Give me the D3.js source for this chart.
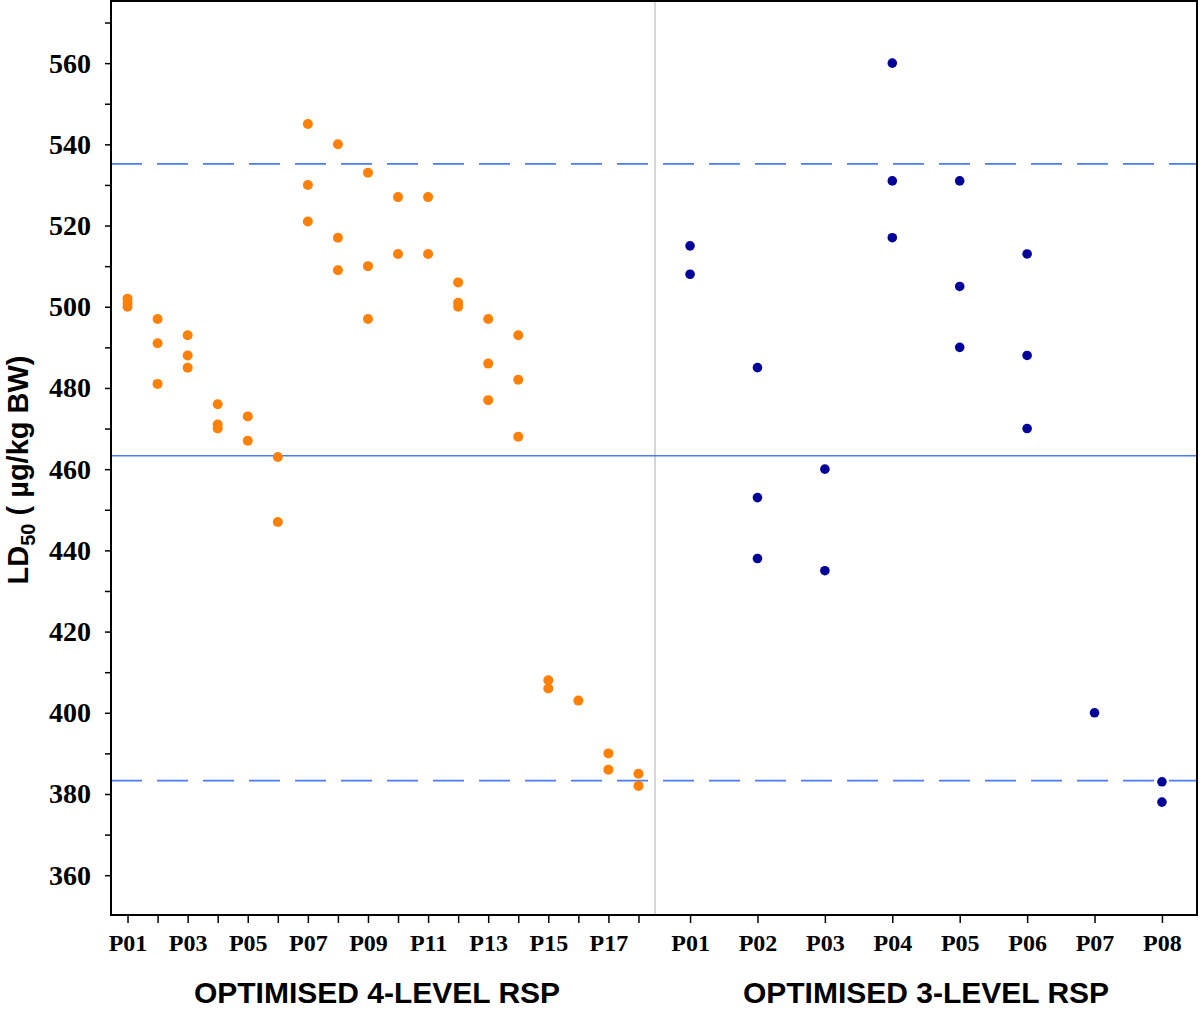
<!DOCTYPE html>
<html><head><meta charset="utf-8">
<script src="https://cdn.jsdelivr.net/npm/d3@7"></script>
<style>body{margin:0;background:#fff}</style>
</head><body>
<svg id="c" width="1200" height="1010"></svg>
<script>
// ---- data ----
const cats4 = ["P01","P02","P03","P04","P05","P06","P07","P08","P09","P10","P11","P12","P13","P14","P15","P16","P17","P18"];
const vals4 = [
  [502,501,500],[497,491,481],[493,488,485],[476,471,470],[473,467],[463,447],
  [545,530,521],[540,517,509],[533,510,497],[527,513],[527,513],[506,501,500],
  [497,486,477],[493,482,468],[408,406],[403],[390,386],[385,382]
];
const cats3 = ["P01","P02","P03","P04","P05","P06","P07","P08"];
const vals3 = [[515,508],[485,453,438],[460,435],[560,531,517],[531,505,490],[513,488,470],[400],[383,378]];
const yTicks = [360,380,400,420,440,460,480,500,520,540,560];
const meanLine = 463.3;
const limitLines = [535.2, 383.3];
const groupTitles = ["OPTIMISED 4-LEVEL RSP","OPTIMISED 3-LEVEL RSP"];

// ---- layout ----
const svg = d3.select("#c");
const L = 111, R = 1197, T = 1, B = 915, MID = 655;
const y = d3.scaleLinear().domain([350.2, 575.3]).range([B, T]);
const x4 = d3.scalePoint().domain(cats4).range([L, MID]).padding(0.55);
const x3 = d3.scalePoint().domain(cats3).range([MID, R]).padding(0.52);
const lineColor = "#4a7cf2";

// divider
svg.append("line").attr("x1",MID).attr("x2",MID).attr("y1",T).attr("y2",B)
  .attr("stroke","#d6d6d6").attr("stroke-width",2);

// reference lines
svg.append("line").attr("x1",L).attr("x2",R).attr("y1",y(meanLine)).attr("y2",y(meanLine))
  .attr("stroke",lineColor).attr("stroke-width",1.7);
limitLines.forEach(v=>{
  svg.append("line").attr("x1",L).attr("x2",R).attr("y1",y(v)).attr("y2",y(v))
    .attr("stroke",lineColor).attr("stroke-width",1.7).attr("stroke-dasharray","31,15");
});

// points
const pts4 = []; vals4.forEach((a,i)=>a.forEach(v=>pts4.push({c:cats4[i],v})));
const pts3 = []; vals3.forEach((a,i)=>a.forEach(v=>pts3.push({c:cats3[i],v})));
svg.append("g").selectAll("circle").data(pts4).join("circle")
  .attr("cx",d=>x4(d.c)).attr("cy",d=>y(d.v)).attr("r",5).attr("fill","#fd8008");
svg.append("g").selectAll("circle").data(pts3).join("circle")
  .attr("cx",d=>x3(d.c)).attr("cy",d=>y(d.v)).attr("r",4.8).attr("fill","#03039a");

// frame
svg.append("rect").attr("x",L).attr("y",T).attr("width",R-L).attr("height",B-T)
  .attr("fill","none").attr("stroke","#000").attr("stroke-width",2);

// y axis
const serif = "'Liberation Serif','Times New Roman',serif";
const yMinor = d3.range(360,575,10).filter(v=>!yTicks.includes(v));
const ya = svg.append("g").attr("transform",`translate(${L},0)`)
  .call(d3.axisLeft(y).tickValues(yTicks).tickSize(6).tickPadding(14).tickFormat(d3.format("d")));
ya.select(".domain").remove();
ya.selectAll("line").attr("stroke","#000").attr("stroke-width",1.5);
ya.selectAll("text").attr("font-family",serif)
  .attr("font-weight","bold").attr("font-size",28).attr("fill","#000");
const ym = svg.append("g").attr("transform",`translate(${L},0)`)
  .call(d3.axisLeft(y).tickValues(yMinor).tickSize(6).tickFormat(""));
ym.select(".domain").remove();
ym.selectAll("line").attr("stroke","#000").attr("stroke-width",1.5);

// x axes
function styleX(g){
  g.select(".domain").remove();
  g.selectAll("line").attr("stroke","#000").attr("stroke-width",1.5);
  g.selectAll("text").attr("font-family",serif)
    .attr("font-weight","bold").attr("font-size",24).attr("fill","#000");
}
const xa4 = svg.append("g").attr("transform",`translate(0,${B})`)
  .call(d3.axisBottom(x4).tickSize(8).tickPadding(11).tickFormat((d,i)=> i%2===0 ? d : ""));
styleX(xa4);
const xa3 = svg.append("g").attr("transform",`translate(0,${B})`)
  .call(d3.axisBottom(x3).tickSize(8).tickPadding(11));
styleX(xa3);

// group titles
const sans = "'Liberation Sans',Arial,sans-serif";
svg.append("text").attr("x",377).attr("y",1003).attr("text-anchor","middle")
  .attr("font-family",sans).attr("font-weight","bold").attr("font-size",30).text(groupTitles[0]);
svg.append("text").attr("x",(MID+R)/2).attr("y",1003).attr("text-anchor","middle")
  .attr("font-family",sans).attr("font-weight","bold").attr("font-size",30).text(groupTitles[1]);

// y label
const yl = svg.append("text").attr("transform","translate(28,470) rotate(-90)")
  .attr("text-anchor","middle").attr("font-family",sans).attr("font-weight","bold").attr("font-size",29);
yl.append("tspan").text("LD");
yl.append("tspan").attr("font-size",20).attr("dy",7).text("50");
yl.append("tspan").attr("dy",-7).text(" ( µg/kg BW)");
</script>
</body></html>
